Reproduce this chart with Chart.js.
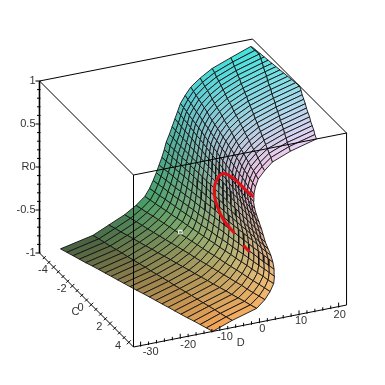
<!DOCTYPE html>
<html>
<head>
<meta charset="utf-8">
<style>
  html, body { margin: 0; padding: 0; background: #fff; }
  canvas { display: block; }
</style>
<script src="https://cdn.jsdelivr.net/npm/chart.js@4/dist/chart.umd.min.js"></script>
</head>
<body>
<canvas id="myChart" width="385" height="385"></canvas>
<script>
// mesh: one line of surfaceD per R level, one column per C value
const cValues = [-5, -4.58, -4.17, -3.75, -3.33, -2.92, -2.5, -2.08, -1.67, -1.25, -0.83, -0.42, 0, 0.42, 0.83, 1.25, 1.67, 2.08, 2.5, 2.92, 3.33, 3.75, 4.17, 4.58, 5];
const rLevels = [-1, -0.917, -0.833, -0.75, -0.667, -0.583, -0.5, -0.417, -0.333, -0.25, -0.167, -0.083, 0, 0.083, 0.167, 0.25, 0.333, 0.417, 0.5, 0.583, 0.667, 0.75, 0.833, 0.917, 1];
const surfaceD = [
  [-26.5,-25.9,-25.3,-24.7,-24.1,-23.4,-22.8,-22.2,-21.6,-21,-20.4,-19.8,-19.2,-18.5,-17.9,-17.3,-16.7,-16.1,-15.5,-14.9,-14.3,-13.6,-13,-12.4,-11.8],
  [-18.3,-17.8,-17.4,-16.9,-16.4,-15.9,-15.5,-15,-14.5,-14,-13.6,-13.1,-12.6,-12.1,-11.7,-11.2,-10.7,-10.2,-9.8,-9.3,-8.8,-8.3,-7.9,-7.4,-6.9],
  [-14.3,-13.7,-13.2,-12.6,-12,-11.5,-10.9,-10.3,-9.8,-9.2,-8.6,-8.1,-7.5,-6.9,-6.4,-5.8,-5.2,-4.7,-4.1,-3.5,-3,-2.4,-1.8,-1.3,-0.7],
  [-10.3,-9.8,-9.3,-8.8,-8.4,-7.9,-7.4,-6.9,-6.4,-5.9,-5.4,-4.9,-4.5,-4,-3.5,-3,-2.5,-2,-1.5,-1,-0.5,-0.1,0.4,0.9,1.4],
  [-7.4,-7,-6.6,-6.1,-5.7,-5.3,-4.9,-4.5,-4.1,-3.6,-3.2,-2.8,-2.4,-2,-1.5,-1.1,-0.7,-0.3,0.2,0.6,1,1.4,1.9,2.3,2.7],
  [-5.2,-4.8,-4.5,-4.1,-3.7,-3.4,-3,-2.6,-2.3,-1.9,-1.5,-1.2,-0.8,-0.4,-0.1,0.3,0.7,1,1.4,1.8,2.1,2.5,2.9,3.2,3.6],
  [-4,-3.7,-3.4,-3,-2.7,-2.4,-2.1,-1.7,-1.4,-1.1,-0.8,-0.4,-0.1,0.2,0.6,0.9,1.2,1.5,1.9,2.2,2.5,2.8,3.2,3.5,3.8],
  [-3.1,-2.8,-2.5,-2.3,-2,-1.7,-1.4,-1.1,-0.8,-0.6,-0.3,0,0.3,0.6,0.9,1.1,1.4,1.7,2,2.3,2.6,2.8,3.1,3.4,3.7],
  [-2.3,-2.1,-1.8,-1.6,-1.4,-1.1,-0.9,-0.6,-0.4,-0.2,0.1,0.3,0.6,0.8,1,1.3,1.5,1.7,2,2.2,2.4,2.7,2.9,3.2,3.4],
  [-1.6,-1.4,-1.2,-1,-0.9,-0.7,-0.5,-0.3,-0.1,0.1,0.3,0.5,0.7,0.8,1,1.2,1.4,1.6,1.8,2,2.2,2.4,2.5,2.7,2.9],
  [-0.9,-0.8,-0.6,-0.5,-0.4,-0.2,-0.1,0,0.1,0.3,0.4,0.5,0.7,0.8,0.9,1,1.2,1.3,1.4,1.6,1.7,1.8,1.9,2.1,2.2],
  [-0.3,-0.2,-0.2,-0.1,0,0.1,0.2,0.2,0.3,0.4,0.5,0.5,0.6,0.7,0.8,0.8,0.9,1,1.1,1.1,1.2,1.3,1.4,1.4,1.5],
  [0.2,0.2,0.3,0.3,0.3,0.4,0.4,0.4,0.5,0.5,0.5,0.6,0.6,0.6,0.7,0.7,0.7,0.8,0.8,0.8,0.9,0.9,0.9,1,1],
  [1,1,0.9,0.9,0.9,0.9,0.9,0.9,0.8,0.8,0.8,0.8,0.8,0.7,0.7,0.7,0.7,0.6,0.6,0.6,0.6,0.6,0.5,0.5,0.5],
  [1.7,1.6,1.6,1.5,1.4,1.3,1.3,1.2,1.1,1,1,0.9,0.8,0.7,0.7,0.6,0.5,0.4,0.4,0.3,0.2,0.1,0.1,0,-0.1],
  [2.4,2.3,2.1,2,1.9,1.8,1.6,1.5,1.4,1.2,1.1,1,0.9,0.7,0.6,0.5,0.3,0.2,0.1,-0.1,-0.2,-0.3,-0.4,-0.6,-0.7],
  [3.1,2.9,2.7,2.6,2.4,2.2,2,1.9,1.7,1.5,1.3,1.1,1,0.8,0.6,0.4,0.2,0.1,-0.1,-0.3,-0.5,-0.7,-0.8,-1,-1.2],
  [3.8,3.6,3.4,3.1,2.9,2.7,2.5,2.3,2,1.8,1.6,1.4,1.2,0.9,0.7,0.5,0.3,0.1,-0.2,-0.4,-0.6,-0.8,-1.1,-1.3,-1.5],
  [5,4.7,4.5,4.2,3.9,3.7,3.4,3.1,2.9,2.6,2.3,2.1,1.8,1.5,1.3,1,0.7,0.5,0.2,-0.1,-0.3,-0.6,-0.9,-1.1,-1.4],
  [6.4,6.1,5.8,5.5,5.2,4.9,4.6,4.2,3.9,3.6,3.3,3,2.7,2.4,2.1,1.8,1.5,1.2,0.9,0.5,0.2,-0.1,-0.4,-0.7,-1],
  [8.8,8.4,8,7.7,7.3,6.9,6.5,6.1,5.8,5.4,5,4.6,4.3,3.9,3.5,3.1,2.7,2.4,2,1.6,1.2,0.8,0.5,0.1,-0.3],
  [11.8,11.4,10.9,10.5,10.1,9.6,9.2,8.7,8.3,7.9,7.4,7,6.6,6.1,5.7,5.2,4.8,4.4,3.9,3.5,3.1,2.6,2.2,1.7,1.3],
  [16.5,16,15.4,14.9,14.3,13.8,13.2,12.7,12.1,11.6,11,10.5,9.9,9.4,8.8,8.3,7.7,7.2,6.6,6.1,5.5,5,4.4,3.9,3.3],
  [21.5,21.6,21.7,21.1,20.5,19.8,19.2,18.6,17.9,17.3,16.7,16,15.4,14.8,14.1,13.5,12.9,12.2,11.6,11,10.3,9.7,9,8.4,7.8],
  [22,22,22,22,22,22,22,22,22,22,22,22,22,21.4,20.7,20.1,19.5,18.8,18.2,17.6,16.9,16.3,15.7,15,14.4]
];
// the last mesh line is cut by the view at D = 22, so its R is lower on the left
const topEdgeR = [0.904,0.912,0.92,0.928,0.936,0.944,0.952,0.96,0.968,0.976,0.984,0.992,1,1,1,1,1,1,1,1,1,1,1,1,1];

const redUpperC = [3,3,3,3,3,3,3,3,3];
const redUpperD = [3.25,1.23,-1.8,-4.6,-6.35,-6.6,-5.8,-4.3,-1.55];
const redUpperR = [0.21,0.31,0.47,0.55,0.46,0.32,0.17,0.01,-0.17];
const redLowerC = [3,3];
const redLowerD = [0.7,2.2];
const redLowerR = [-0.33,-0.42];

const markerC = [0];
const markerD = [-8.1];
const markerR = [-0.425];

const rTicks = [-1,-0.5,0,0.5,1];
const cTicks = [-4,-2,0,2,4];
const dTicks = [-30,-20,-10,0,10,20];

const rRange = [-1,1];
const cRange = [-5,5];
const dRange = [-31.8,22];

// pixel offsets of the tick labels from their tick
const dLabelShift = [[10,6],[8,7],[5,7],[3,7],[2,7],[1,8]];

// shading stops, rows follow shadeR: [r,g,b] on the C=-5 side and on the C=5 side
const shadeR = [-1,-0.6,0,0.5,1];
const shadeLow = [[70,90,60],[70,160,105],[75,175,150],[85,200,205],[60,235,225]];
const shadeHigh = [[245,165,85],[245,190,120],[215,170,150],[245,185,215],[235,210,245]];

// the box is drawn in parallel projection
const project = (c, d, r) => ({
    x: 133.5 + (c - 5) * 9.4 + (d + 31.8) * 3.96,
    y: 347 + (c - 5) * 9.4 - (d + 31.8) * 0.78 - (r + 1) * 86
});

const depthOf = (c, d, r) => 0.01 * c - 0.000815 * d + 0.0328 * r;

const cellColor = (c, r) => {
    let k = 0;
    while (k < shadeR.length - 2 && r > shadeR[k + 1]) k++;
    const t = Math.min(1, Math.max(0, (r - shadeR[k]) / (shadeR[k + 1] - shadeR[k])));
    const s = (c + 5) / 10;
    const rgb = [0, 1, 2].map(n => {
        const lo = shadeLow[k][n] + (shadeLow[k + 1][n] - shadeLow[k][n]) * t;
        const hi = shadeHigh[k][n] + (shadeHigh[k + 1][n] - shadeHigh[k][n]) * t;
        return Math.round(lo + (hi - lo) * s);
    });
    return `rgb(${rgb[0]},${rgb[1]},${rgb[2]})`;
};

const levelR = (j, i) => (j === rLevels.length - 1 ? topEdgeR[i] : rLevels[j]);

const datasets = [];

// one filled dataset per mesh cell, far cells get painted first
for (let j = 0; j < rLevels.length - 1; j++) {
    for (let i = 0; i < cValues.length - 1; i++) {
        const corners = [[i, j], [i + 1, j], [i + 1, j + 1], [i, j + 1], [i, j]];
        const pts = corners.map(([a, b]) => project(cValues[a], surfaceD[b][a], levelR(b, a)));
        const cMid = (cValues[i] + cValues[i + 1]) / 2;
        const rMid = (levelR(j, i) + levelR(j + 1, i)) / 2;
        const dMid = (surfaceD[j][i] + surfaceD[j][i + 1] + surfaceD[j + 1][i] + surfaceD[j + 1][i + 1]) / 4;
        datasets.push({
            data: pts,
            showLine: true,
            fill: 'shape',
            backgroundColor: cellColor(cMid, rMid),
            borderColor: '#141414',
            borderWidth: 0.9,
            pointRadius: 0,
            order: -depthOf(cMid, dMid, rMid) * 100000
        });
    }
}

const lineSet = (pts, width, color) => ({
    data: pts,
    showLine: true,
    fill: false,
    borderColor: color,
    borderWidth: width,
    pointRadius: 0,
    order: -1000000
});

// box
const [c0, c1] = cRange, [d0, d1] = dRange, [r0, r1] = rRange;
datasets.push(lineSet([
    project(c0, d0, r0), project(c0, d0, r1), project(c0, d1, r1), project(c1, d1, r1),
    project(c1, d0, r1), project(c0, d0, r1)
], 1, '#000'));
datasets.push(lineSet([project(c1, d0, r1), project(c1, d0, r0), project(c1, d1, r0), project(c1, d1, r1)], 1, '#000'));
datasets.push(lineSet([project(c0, d0, r0), project(c1, d0, r0)], 1, '#000'));
datasets.push(lineSet([project(c0, d0, r0), project(c0, d0, r1)], 1.6, '#000'));

// tick marks
const tickPts = [];
const addTick = (p, x0, y0, x1, y1) => {
    tickPts.push({ x: p.x + x0, y: p.y + y0 }, { x: p.x + x1, y: p.y + y1 }, { x: null, y: null });
};
for (let n = 0; n <= 20; n++) {
    const big = n % 5 === 0;
    addTick(project(c0, d0, -1 + n * 0.1), big ? -4 : -2.5, 0, 1, 0);
}
for (let n = 0; n <= 18; n++) {
    const big = n % 4 === 2;
    addTick(project(-4.5 + n * 0.5, d0, r0), big ? -2 : -1.5, big ? 2 : 1.5, big ? 2 : 1.5, big ? -2 : -1.5);
}
for (let n = 0; n <= 25; n++) {
    const big = n % 5 === 0;
    addTick(project(c1, -30 + n * 2, r0), 0, 1, 0, big ? -4 : -2.5);
}
datasets.push(lineSet(tickPts, 1, '#000'));

// red curve, split where the fold hides it
const toPoints = (cs, ds, rs) => cs.map((c, n) => project(c, ds[n], rs[n]));
const redUpper = lineSet(toPoints(redUpperC, redUpperD, redUpperR), 3, '#e01018');
redUpper.tension = 0.4;
datasets.push(redUpper);
datasets.push(lineSet(toPoints(redLowerC, redLowerD, redLowerR), 3, '#e01018'));

datasets.push({
    data: toPoints(markerC, markerD, markerR),
    showLine: false,
    pointStyle: 'rect',
    pointRadius: 2.5,
    pointBorderColor: '#fff',
    pointBackgroundColor: 'rgba(0,0,0,0)',
    pointBorderWidth: 1,
    order: -1000001
});

const axisText = {
    id: 'axisText',
    afterDraw(chart) {
        const { ctx, scales } = chart;
        const put = (txt, p, dx, dy) => {
            ctx.fillText(txt, scales.x.getPixelForValue(p.x + dx), scales.y.getPixelForValue(p.y + dy));
        };
        ctx.save();
        ctx.font = '11px "Liberation Sans", Arial, sans-serif';
        ctx.fillStyle = '#333';
        ctx.textBaseline = 'middle';
        ctx.textAlign = 'right';
        rTicks.forEach(t => put(String(t), project(c0, d0, t), -4, 0));
        put('R', project(c0, d0, 0), -10, 0);
        ctx.textAlign = 'center';
        cTicks.forEach(t => put(String(t), project(t, d0, r0), -6, 8));
        put('C', project(0, d0, r0), -11, 12);
        dTicks.forEach((t, n) => put(String(t), project(c1, t, r0), dLabelShift[n][0], dLabelShift[n][1]));
        put('D', project(c1, -6, r0), 5, 16);
        ctx.restore();
    }
};

let ctx = document.getElementById('myChart').getContext('2d');
window.myChart = new Chart(ctx, {
    type: 'scatter',
    data: { datasets: datasets },
    options: {
        responsive: false,
        animation: false,
        events: [],
        layout: { padding: 0, autoPadding: false },
        scales: {
            x: { type: 'linear', display: false, min: 0, max: 385 },
            y: { type: 'linear', display: false, min: 0, max: 385, reverse: true }
        },
        plugins: {
            legend: { display: false },
            tooltip: { enabled: false },
            title: { display: false }
        }
    },
    plugins: [axisText]
});
</script>
</body>
</html>
